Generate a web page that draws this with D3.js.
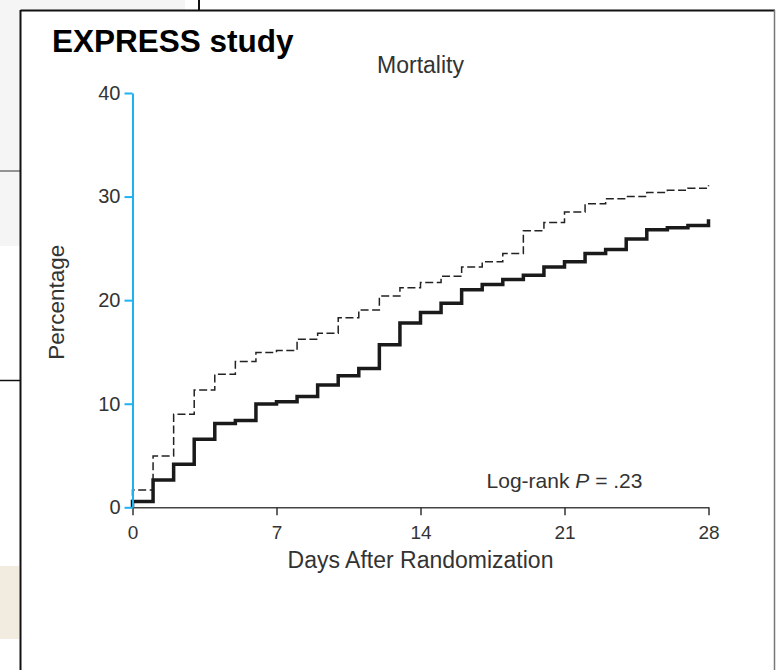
<!DOCTYPE html>
<html>
<head>
<meta charset="utf-8">
<script src="https://cdn.jsdelivr.net/npm/d3@7/dist/d3.min.js"></script>
<style>
  html, body { margin: 0; padding: 0; background: #ffffff; }
  svg { display: block; font-family: "Liberation Sans", Arial, Helvetica, sans-serif; }
</style>
</head>
<body>
<svg id="chart" width="776" height="670"></svg>
<script>
// Days after randomization (step positions)
const days = [0, 1, 2, 3, 4, 5, 6, 7, 8, 9, 10, 11, 12, 13, 14, 15, 16, 17, 18, 19, 20, 21, 22, 23, 24, 25, 26, 27, 28];
// Cumulative mortality (%), thick solid curve
const solidPct = [0.55, 2.64, 4.15, 6.57, 8.1, 8.37, 9.98, 10.2, 10.7, 11.8, 12.7, 13.4, 15.7, 17.8, 18.8, 19.7, 21.0, 21.5, 22.0, 22.4, 23.2, 23.7, 24.5, 24.9, 25.9, 26.8, 27.0, 27.2, 27.8];
// Cumulative mortality (%), thin dashed curve
const dashedPct = [1.67, 4.96, 8.98, 11.33, 12.85, 14.07, 14.94, 15.13, 16.23, 16.8, 18.3, 19.06, 20.4, 21.2, 21.7, 22.3, 23.2, 23.7, 24.5, 26.7, 27.5, 28.5, 29.3, 29.8, 30.0, 30.4, 30.6, 30.8, 31.1];
// Axis ticks
const xTicks = [0, 7, 14, 21, 28];
const yTicks = [0, 10, 20, 30, 40];

const svg = d3.select("#chart");
const blue = "#1fb2f0";
const ink = "#333333";

// Surrounding page furniture
svg.append("rect").attr("x", 0).attr("y", 0).attr("width", 185).attr("height", 10).attr("fill", "#f5f5f5");
svg.append("rect").attr("x", 0).attr("y", 0).attr("width", 20).attr("height", 246).attr("fill", "#f5f5f5");
svg.append("line").attr("x1", 0).attr("x2", 20).attr("y1", 171).attr("y2", 171).attr("stroke", "#333").attr("stroke-width", 1);
svg.append("line").attr("x1", 0).attr("x2", 20).attr("y1", 380.5).attr("y2", 380.5).attr("stroke", "#111").attr("stroke-width", 1.5);
svg.append("rect").attr("x", 0).attr("y", 566).attr("width", 19).attr("height", 73).attr("fill", "#f2ebe0");
svg.append("line").attr("x1", 199).attr("x2", 199).attr("y1", 0).attr("y2", 10).attr("stroke", "#111").attr("stroke-width", 2);

// Panel frame
svg.append("line").attr("x1", 20.5).attr("x2", 775).attr("y1", 10.5).attr("y2", 10.5).attr("stroke", "#111").attr("stroke-width", 2);
svg.append("line").attr("x1", 20.5).attr("x2", 20.5).attr("y1", 10).attr("y2", 670).attr("stroke", "#111").attr("stroke-width", 2);
svg.append("line").attr("x1", 774.5).attr("x2", 774.5).attr("y1", 10).attr("y2", 670).attr("stroke", "#777").attr("stroke-width", 1.5);

// Scales
const x = d3.scaleLinear().domain([0, 28]).range([132.5, 708.5]);
const y = d3.scaleLinear().domain([0, 40]).range([507.3, 93]);

// Step curves
const line = d3.line().x(d => x(d[0])).y(d => y(d[1])).curve(d3.curveStepAfter);
const toPoints = vals => [[0, 0]].concat(days.map((d, i) => [d, vals[i]]));

svg.append("path")
  .datum(toPoints(dashedPct))
  .attr("d", line)
  .attr("fill", "none")
  .attr("stroke", "#222")
  .attr("stroke-width", 1.5)
  .attr("stroke-dasharray", "8,3.5");

svg.append("path")
  .datum(toPoints(solidPct))
  .attr("d", line)
  .attr("fill", "none")
  .attr("stroke", "#1a1a1a")
  .attr("stroke-width", 3.5);

// X axis
const xAxis = svg.append("g")
  .attr("transform", `translate(0,${y(0)})`)
  .call(d3.axisBottom(x).tickValues(xTicks).tickSize(8).tickPadding(10).tickSizeOuter(0));
xAxis.select(".domain").attr("stroke", "#444").attr("stroke-width", 1.5);
xAxis.selectAll(".tick line").attr("stroke", "#333").attr("stroke-width", 1.5);
xAxis.selectAll(".tick text").attr("fill", ink).attr("font-size", 19).attr("font-family", "Liberation Sans, Arial, sans-serif");

// Y axis
const yAxis = svg.append("g")
  .attr("transform", `translate(${x(0)},0)`)
  .call(d3.axisLeft(y).tickValues(yTicks).tickSize(8).tickPadding(4).tickSizeOuter(0));
yAxis.select(".domain").attr("stroke", blue).attr("stroke-width", 2);
yAxis.selectAll(".tick line").attr("stroke", blue).attr("stroke-width", 2);
yAxis.selectAll(".tick text").attr("fill", ink).attr("font-size", 20).attr("font-family", "Liberation Sans, Arial, sans-serif");

// Titles and labels
svg.append("text")
  .attr("x", 52).attr("y", 52)
  .attr("font-size", 31.5).attr("font-weight", "bold").attr("fill", "#000")
  .text("EXPRESS study");

svg.append("text")
  .attr("x", (x(0) + x(28)) / 2).attr("y", 72.5)
  .attr("text-anchor", "middle").attr("font-size", 23).attr("fill", ink)
  .text("Mortality");

svg.append("text")
  .attr("x", (x(0) + x(28)) / 2).attr("y", 568)
  .attr("text-anchor", "middle").attr("font-size", 23).attr("fill", ink)
  .text("Days After Randomization");

svg.append("text")
  .attr("transform", `translate(64,${y(19.8)}) rotate(-90)`)
  .attr("text-anchor", "middle").attr("font-size", 22.5).attr("fill", ink)
  .text("Percentage");

const lr = svg.append("text")
  .attr("x", x(21)).attr("y", 488)
  .attr("text-anchor", "middle").attr("font-size", 21).attr("fill", ink);
lr.append("tspan").text("Log-rank ");
lr.append("tspan").attr("font-style", "italic").text("P");
lr.append("tspan").text(" = .23");
</script>
</body>
</html>
